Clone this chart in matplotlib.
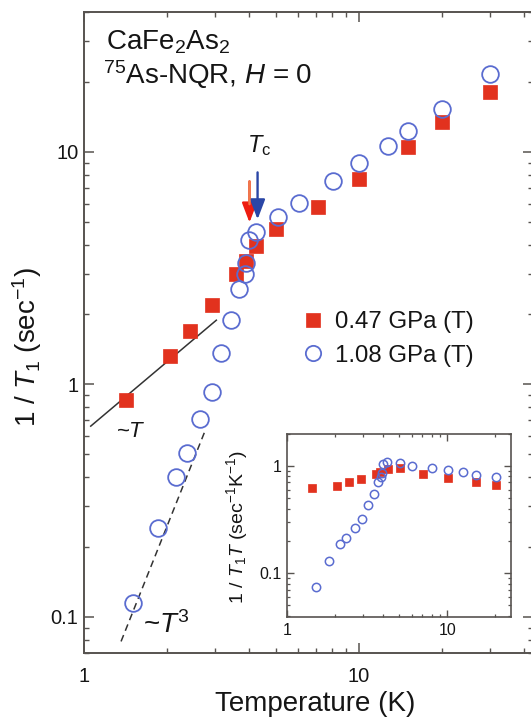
import matplotlib
matplotlib.use('Agg')
import matplotlib.pyplot as plt
from matplotlib.lines import Line2D

plt.rcParams['font.family'] = ['Liberation Sans', 'DejaVu Sans']
plt.rcParams['mathtext.fontset'] = 'custom'
plt.rcParams['mathtext.rm'] = 'Liberation Sans'
plt.rcParams['mathtext.it'] = 'Liberation Sans:italic'
plt.rcParams['mathtext.bf'] = 'Liberation Sans:bold'

# ---------------- data ----------------
# main panel: 1/T1 (sec^-1) vs temperature (K)
t_047 = [1.42, 2.06, 2.42, 2.91, 3.56, 3.87, 4.24, 4.98, 7.08, 10.0, 15.1, 20.0, 30.0]
r_047 = [0.86, 1.33, 1.69, 2.2, 3.0, 3.4, 3.95, 4.67, 5.8, 7.66, 10.5, 13.5, 18.1]

t_108 = [1.51, 1.86, 2.17, 2.36, 2.65, 2.91, 3.16, 3.44, 3.65, 3.84, 3.9, 4.0,
         4.21, 5.06, 6.04, 8.04, 10.0, 12.8, 15.1, 20.0, 30.0]
r_108 = [0.115, 0.241, 0.40, 0.506, 0.707, 0.93, 1.36, 1.9, 2.58, 3.0, 3.34, 4.19,
         4.54, 5.26, 6.04, 7.5, 8.97, 10.6, 12.3, 15.3, 21.6]

# guide lines
lin_t = [1.058, 3.03]
lin_r = [0.662, 1.89]
cub_t = [1.364, 2.76]
cub_r = [0.0785, 0.634]

# Tc arrows (temperature, y start, y tip)
tc_red = [4.0, 7.47, 4.97]
tc_blue = [4.28, 8.17, 5.13]

# inset: 1/T1T (sec^-1 K^-1) vs temperature (K)
ti_047 = [1.43, 2.05, 2.43, 2.91, 3.57, 3.83, 4.25, 5.04, 7.08, 10.1, 15.2, 20.2]
ri_047 = [0.615, 0.65, 0.70, 0.76, 0.84, 0.87, 0.93, 0.945, 0.84, 0.77, 0.71, 0.665]
ti_108 = [1.51, 1.84, 2.14, 2.34, 2.66, 2.92, 3.19, 3.47, 3.7, 3.84, 3.9, 4.0,
          4.22, 5.04, 6.04, 8.06, 10.1, 12.5, 15.2, 20.2]
ri_108 = [0.075, 0.129, 0.185, 0.211, 0.265, 0.32, 0.43, 0.55, 0.70, 0.78, 0.86, 1.04,
          1.09, 1.06, 1.0, 0.96, 0.92, 0.87, 0.82, 0.78]

labels = ['0.47 GPa (T)', '1.08 GPa (T)']
xticks_main = [1, 10]
xticklabels_main = ['1', '10']
yticks_main = [0.1, 1, 10]
yticklabels_main = ['0.1', '1', '10']
yticks_inset = [0.1, 1]
yticklabels_inset = ['0.1', '1']

RED = '#e2321e'
BLUE = '#5a6cd0'
SPINE = '#575350'
TXT = '#151515'

W, H = 531, 724
fig = plt.figure(figsize=(W / 100, H / 100), dpi=100)


def fx(px):
    return px / W


def fy(py):
    return 1 - py / H


# ---------------- main axes ----------------
ax = fig.add_axes([fx(84), fy(653), (533 - 84) / W, (653 - 12) / H])
ax.set_xscale('log')
ax.set_yscale('log')
ax.set_xlim(1, 43)
ax.set_ylim(0.07, 40)

ax.plot(lin_t, lin_r, color='#333333', lw=1.1, zorder=2)
ax.plot(cub_t, cub_r, color='#333333', lw=1.1, ls=(0, (4.5, 3)), zorder=2)

ax.plot(t_047, r_047, ls='none', marker='s', ms=9.5, mfc=RED, mec=RED, mew=0.5, zorder=3)
ax.plot(t_108, r_108, ls='none', marker='o', ms=12, mfc='none', mec=BLUE, mew=1.3, zorder=4)

# Tc arrows
head = '-|>,head_length=1.0,head_width=0.38'
ax.annotate('', xy=(tc_red[0], tc_red[2]), xytext=(tc_red[0], tc_red[1]),
            arrowprops=dict(arrowstyle=head, mutation_scale=12, lw=1.7, color='#ee1c10',
                            shrinkA=0, shrinkB=0), zorder=5)
ax.annotate('', xy=(tc_red[0], tc_red[2] * 1.2), xytext=(tc_red[0], tc_red[1]),
            arrowprops=dict(arrowstyle='-', lw=1.7, color='#f07a4a',
                            shrinkA=0, shrinkB=0), zorder=6)
ax.annotate('', xy=(tc_blue[0], tc_blue[2]), xytext=(tc_blue[0], tc_blue[1]),
            arrowprops=dict(arrowstyle=head, mutation_scale=12, lw=1.7, color='#2a46a6',
                            shrinkA=0, shrinkB=0), zorder=5)

ax.set_xticks(xticks_main)
ax.set_xticklabels(xticklabels_main)
ax.set_yticks(yticks_main)
ax.set_yticklabels(yticklabels_main)
ax.tick_params(which='both', direction='in', top=True, right=True, colors=SPINE,
               labelcolor=TXT)
ax.tick_params(which='major', length=7, width=1.1, labelsize=14.5)
ax.tick_params(which='minor', length=3.6, width=1.0)
ax.tick_params(axis='x', which='major', pad=10)
ax.tick_params(axis='y', which='major', pad=4)
for s in ax.spines.values():
    s.set_color(SPINE)
    s.set_linewidth(1.4)

# legend
handles = [Line2D([], [], ls='none', marker='s', ms=9.5, mfc=RED, mec=RED, mew=0.5),
           Line2D([], [], ls='none', marker='o', ms=11, mfc='none', mec=BLUE, mew=1.3)]
leg = ax.legend(handles, labels, loc='upper left', bbox_to_anchor=(fx(301), fy(311)),
                bbox_transform=fig.transFigure, frameon=False, fontsize=17.3,
                handlelength=1.0, handletextpad=0.42, labelspacing=0.48,
                borderpad=0, borderaxespad=0)
for t in leg.get_texts():
    t.set_color(TXT)

# texts
fig.text(fx(106), fy(49), r'CaFe$_2$As$_2$', fontsize=20, va='baseline', ha='left', color=TXT)
fig.text(fx(103), fy(84), r'$^{75}$As-NQR, $H$ = 0', fontsize=20, va='baseline', ha='left',
         color=TXT)
fig.text(fx(247), fy(152), r'$T_{\rm c}$', fontsize=17, va='baseline', ha='left', color=TXT)
fig.text(fx(116), fy(437), r'~$T$', fontsize=16, va='baseline', ha='left', color=TXT)
fig.text(fx(143), fy(633), r'~$T^3$', fontsize=20, va='baseline', ha='left', color=TXT)
fig.text(fx(27), fy(347), r'1 / $T_1$ (sec$^{-1}$)', fontsize=20, rotation=90,
         ha='center', va='center', color=TXT)
fig.text(fx(315), fy(704), 'Temperature (K)', fontsize=20, ha='center', va='center',
         color=TXT)

# ---------------- inset ----------------
ins = fig.add_axes([fx(287), fy(617), (511 - 287) / W, (617 - 433.5) / H])
ins.set_xscale('log')
ins.set_yscale('log')
ins.set_xlim(1, 25)
ins.set_ylim(0.039, 2.0)
ins.plot(ti_047, ri_047, ls='none', marker='s', ms=5.2, mfc=RED, mec=RED, mew=0.5, zorder=3)
ins.plot(ti_108, ri_108, ls='none', marker='o', ms=6, mfc='none', mec=BLUE, mew=1.1, zorder=4)
ins.set_xticks(xticks_main)
ins.set_xticklabels(xticklabels_main)
ins.set_yticks(yticks_inset)
ins.set_yticklabels(yticklabels_inset)
ins.tick_params(which='both', direction='in', top=True, right=True, colors=SPINE,
                labelcolor=TXT)
ins.tick_params(which='major', length=5, width=1.0, labelsize=11.5)
ins.tick_params(which='minor', length=2.5, width=0.9)
ins.tick_params(axis='x', which='major', pad=4.5)
ins.tick_params(axis='y', which='major', pad=4)
for s in ins.spines.values():
    s.set_color(SPINE)
    s.set_linewidth(1.2)
fig.text(fx(237), fy(527), r'1 / $T_1T$ (sec$^{-1}$K$^{-1}$)', fontsize=14, rotation=90,
         ha='center', va='center', color=TXT)

fig.savefig('out.png', dpi=100)
